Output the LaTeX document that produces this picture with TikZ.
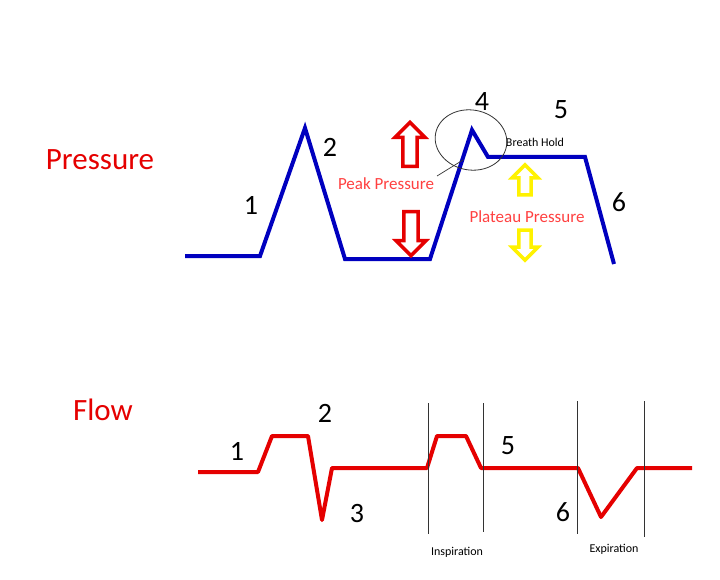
\documentclass[tikz,border=0pt]{standalone}
\usepackage{fontspec}
\setmainfont{Carlito}
\usetikzlibrary{shapes.arrows}
\begin{document}
\begin{tikzpicture}[x=1pt,y=-1pt,
  num/.style={font=\fontsize{28}{28}\selectfont},
  ttl/.style={font=\fontsize{31}{31}\selectfont,text=red!90!black},
  small/.style={font=\fontsize{12}{12}\selectfont},
  lbl/.style={font=\fontsize{17}{17}\selectfont,text=red!75!white},
  arr/.style={single arrow,draw=#1,line width=3.5pt,fill=white,minimum height=44pt,minimum width=30pt,single arrow head extend=3pt,inner sep=1pt},
  vl/.style={draw=black!80,line width=0.7pt}]
\useasboundingbox (0,0) rectangle (720,580);
\draw[blue!75!black,line width=4pt,line join=miter] (185,256)--(260,256)--(305,128)--(345,259)--(430,259)--(472,130)--(488,157)--(585,157)--(614,264);
\draw[red!90!black,line width=4pt,line join=round] (198,472)--(258,472)--(272,436)--(308,436)--(322,520)--(332,468)--(427,468)--(437,436)--(466,436)--(481,468)--(578,468)--(601,517)--(637,468)--(692,468);
\coordinate (i1a) at (428,403); \coordinate (i1b) at (428,534);
\coordinate (i2a) at (483,403); \coordinate (i2b) at (483,532);
\coordinate (e1a) at (577,401); \coordinate (e1b) at (577,534);
\coordinate (e2a) at (644,401); \coordinate (e2b) at (644,537);
\draw[vl] (i1a)--(i1b); \draw[vl] (i2a)--(i2b);
\draw[vl] (e1a)--(e1b); \draw[vl] (e2a)--(e2b);
\node[ttl] (pt) at (100,160) {Pressure};
\node[ttl] (ft) at (103,410) {Flow};
\node[num] (p1) at (251,205) {1};
\node[num] (p2) at (330,147) {2};
\node[num] (p4) at (482,102) {4};
\node[num] (p5) at (561,110) {5};
\node[num] (p6) at (619,202) {6};
\node[num] (f1) at (237,451) {1};
\node[num] (f2) at (325,413) {2};
\node[num] (f3) at (357,514) {3};
\node[num] (f5) at (508,446) {5};
\node[num] (f6) at (563,512) {6};
\node[small] (bh) at (535,142) {Breath Hold};
\node[small] (ins) at (457,552) {Inspiration};
\node[small] (exp) at (614,549) {Expiration};
\node[lbl] (pp) at (386,184) {Peak Pressure};
\node[lbl] (plp) at (527,217) {Plateau Pressure};
\draw[black!80,line width=0.8pt,rotate around={-10:(471,140)}] (471,140) ellipse (36 and 30);
\coordinate (ls) at (463,160);
\coordinate (le) at (437,176);
\draw[black!80,line width=0.7pt] (ls)--(le);
\node[arr=red!90!black,shape border rotate=90] (ru) at (410,148) {};
\node[arr=red!90!black,shape border rotate=270] (rd) at (411,230) {};
\node[arr=yellow,shape border rotate=90,minimum height=30pt,minimum width=26pt] (yu) at (525,183) {};
\node[arr=yellow,shape border rotate=270,minimum height=30pt,minimum width=26pt] (yd) at (525,242) {};
\end{tikzpicture}
\end{document}
